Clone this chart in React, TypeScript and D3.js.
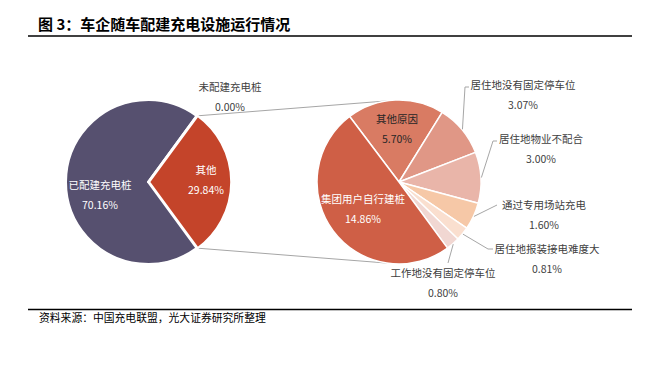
import React from "react";
import * as d3 from "d3";

// primary pie
const mainNames = ["其他", "已配建充电桩", "未配建充电桩"];
const mainValues = [29.84, 70.16, 0.0];
const mainColors = ["#C4442A", "#56506F", "#56506F"];

// secondary pie (breakdown of 其他)
const subNames = [
  "其他原因",
  "居住地没有固定停车位",
  "居住地物业不配合",
  "通过专用场站充电",
  "居住地报装接电难度大",
  "工作地没有固定停车位",
  "集团用户自行建桩",
];
const subValues = [5.7, 3.07, 3.0, 1.6, 0.81, 0.8, 14.86];
const subColors = ["#D97B63", "#E09786", "#E9B5A9", "#F6C8A7", "#FADFCF", "#F1D7D2", "#CF5F46"];

const W = 659;
const H = 367;
const r = 82;
const c1 = { x: 148, y: 182 };
const c2 = { x: 399, y: 182 };
const deg = Math.PI / 180;

// label layout: center of two-line block, text colour, optional leader elbow
const mainLabelPos: Record<string, { x: number; y: number; fill: string }> = {
  "其他": { x: 206, y: 178, fill: "#fff" },
  "已配建充电桩": { x: 100, y: 193, fill: "#fff" },
  "未配建充电桩": { x: 230, y: 95, fill: "#404040" },
};
const subLabelPos: Record<string, { x: number; y: number; fill: string; leader?: [number, number][] }> = {
  "其他原因": { x: 397, y: 127, fill: "#262626" },
  "集团用户自行建桩": { x: 363, y: 207, fill: "#fff" },
  "居住地没有固定停车位": { x: 523, y: 93, fill: "#404040", leader: [[465, 87], [469, 87]] },
  "居住地物业不配合": { x: 541, y: 147, fill: "#404040", leader: [[493, 141], [497, 141]] },
  "通过专用场站充电": { x: 544, y: 213, fill: "#404040", leader: [[497, 205]] },
  "居住地报装接电难度大": { x: 547, y: 257, fill: "#404040", leader: [[488, 249], [493, 249]] },
  "工作地没有固定停车位": { x: 443, y: 281, fill: "#404040", leader: [[448, 263]] },
};

const fmt = (v: number) => v.toFixed(2) + "%";
const font = "'Noto Sans CJK SC', 'Microsoft YaHei', sans-serif";

export default function App() {
  const mainSpan = (mainValues[0] / d3.sum(mainValues)) * 2 * Math.PI;
  const mainArcs = d3
    .pie<number>()
    .sort(null)
    .startAngle(Math.PI / 2 - mainSpan / 2)
    .endAngle(Math.PI / 2 - mainSpan / 2 + 2 * Math.PI)(mainValues);

  const subStart = -37 * deg;
  const subArcs = d3
    .pie<number>()
    .sort(null)
    .startAngle(subStart)
    .endAngle(subStart + 2 * Math.PI)(subValues);

  const arc = d3.arc<d3.PieArcDatum<number>>().innerRadius(0).outerRadius(r);
  const pt = (c: { x: number; y: number }, a: number, rad: number): [number, number] => [
    c.x + rad * Math.sin(a),
    c.y - rad * Math.cos(a),
  ];

  const other = mainArcs[0];
  const ex = 1.2;
  const line = d3.line();

  const conTop = [pt(c1, other.startAngle, r), pt(c2, -8.6 * deg, r)];
  const conBot = [pt(c1, other.endAngle, r), pt(c2, 188.6 * deg, r)];

  const twoLines = (name: string, value: number, p: { x: number; y: number; fill: string }) => (
    <text key={name} x={p.x} y={p.y} textAnchor="middle" fill={p.fill} fontSize={10.5} fontFamily={font}>
      <tspan x={p.x} dy="-0.35em">{name}</tspan>
      <tspan x={p.x} dy="1.85em">{fmt(value)}</tspan>
    </text>
  );

  return (
    <svg width={W} height={H} style={{ position: "absolute", left: 0, top: 0, background: "#fff" }}>
      <text x={38} y={30} fontSize={15} fontWeight="bold" fontFamily={font} fill="#000">
        图 3：车企随车配建充电设施运行情况
      </text>
      <line x1={28} x2={632} y1={36} y2={36} stroke="#000" strokeWidth={1.3} />

      <path d={line(conTop as [number, number][]) || ""} stroke="#A6A6A6" fill="none" />
      <path d={line(conBot as [number, number][]) || ""} stroke="#A6A6A6" fill="none" />

      <g>
        {mainArcs.map((a, i) => {
          const mid = (a.startAngle + a.endAngle) / 2;
          const off = i === 0 ? ex : 0;
          return (
            <path
              key={mainNames[i]}
              d={arc(a) || ""}
              transform={`translate(${c1.x + off * Math.sin(mid)},${c1.y - off * Math.cos(mid)})`}
              fill={mainColors[i]}
              stroke="#fff"
              strokeWidth={2}
              strokeLinejoin="round"
            />
          );
        })}
      </g>

      <g transform={`translate(${c2.x},${c2.y})`}>
        {subArcs.map((a, i) => (
          <path
            key={subNames[i]}
            d={arc(a) || ""}
            fill={subColors[i]}
            stroke="#fff"
            strokeWidth={1.5}
            strokeLinejoin="round"
          />
        ))}
      </g>

      {subArcs.map((a, i) => {
        const p = subLabelPos[subNames[i]];
        if (!p.leader) return null;
        const mid = (a.startAngle + a.endAngle) / 2;
        const pts = [pt(c2, mid, r + 0.5), ...p.leader];
        return <path key={"l" + i} d={line(pts) || ""} stroke="#A6A6A6" fill="none" />;
      })}

      {mainNames.map((n, i) => twoLines(n, mainValues[i], mainLabelPos[n]))}
      {subNames.map((n, i) => twoLines(n, subValues[i], subLabelPos[n]))}

      <line x1={28} x2={632} y1={309.5} y2={309.5} stroke="#000" strokeWidth={1.3} />
      <text x={39} y={322} fontSize={10.8} fontFamily={font} fill="#000">
        资料来源：中国充电联盟，光大证券研究所整理
      </text>
    </svg>
  );
}
